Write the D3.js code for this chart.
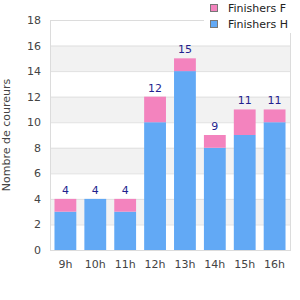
<!DOCTYPE html>
<html>
<head>
<meta charset="utf-8">
<script src="https://cdn.jsdelivr.net/npm/d3@7"></script>
<style>
  body { margin: 0; background: #fff; }
  svg { font-family: "DejaVu Sans", sans-serif; }
</style>
</head>
<body>
<div id="chart"></div>
<script>
var categories = ["9h", "10h", "11h", "12h", "13h", "14h", "15h", "16h"];
var finishersH = [3, 4, 3, 10, 14, 8, 9, 10];
var finishersF = [1, 0, 1, 2, 1, 1, 2, 1];
var yTicks = [0, 2, 4, 6, 8, 10, 12, 14, 16, 18];
var seriesNames = ["Finishers F", "Finishers H"];
var seriesColors = {"Finishers H": "#62a9f5", "Finishers F": "#f383be"};

var width = 300, height = 300;
var margin = {top: 20, right: 10, bottom: 50, left: 50};
var graphWidth = width - margin.left - margin.right;
var graphHeight = height - margin.top - margin.bottom;

var svg = d3.select("#chart").append("svg")
    .attr("width", width)
    .attr("height", height);

var g = svg.append("g")
    .attr("transform", "translate(" + margin.left + "," + margin.top + ")");

var x = d3.scaleBand().domain(categories).range([0, graphWidth]).paddingInner(0.27).paddingOuter(0.15);
var y = d3.scaleLinear().domain([0, 18]).range([graphHeight, 0]);

// alternating bands
for (var i = 0; i < yTicks.length - 1; i++) {
    if (i % 2 === 1) {
        g.append("rect")
            .attr("x", 0).attr("width", graphWidth)
            .attr("y", y(yTicks[i + 1]))
            .attr("height", y(yTicks[i]) - y(yTicks[i + 1]))
            .attr("fill", "#f2f2f2");
    }
}
g.selectAll(".grid").data(yTicks).enter().append("line")
    .attr("x1", 0).attr("x2", graphWidth)
    .attr("y1", function(d) { return y(d) + 0.5; })
    .attr("y2", function(d) { return y(d) + 0.5; })
    .attr("stroke", "#e0e0e0");

// plot frame
g.append("rect")
    .attr("x", 0.5).attr("y", 0.5)
    .attr("width", graphWidth).attr("height", graphHeight)
    .attr("fill", "none").attr("stroke", "#dcdcdc");

var stackData = categories.map(function(c, i) {
    return {cat: c, "Finishers H": finishersH[i], "Finishers F": finishersF[i]};
});
var stack = d3.stack().keys(["Finishers H", "Finishers F"])(stackData);

g.selectAll(".series").data(stack).enter().append("g")
    .attr("fill", function(s) { return seriesColors[s.key]; })
    .selectAll("rect").data(function(s) { return s; }).enter().append("rect")
        .attr("x", function(d) { return x(d.data.cat); })
        .attr("width", x.bandwidth())
        .attr("y", function(d) { return y(d[1]); })
        .attr("height", function(d) { return y(d[0]) - y(d[1]); });

// totals
g.selectAll(".total").data(stackData).enter().append("text")
    .attr("x", function(d) { return x(d.cat) + x.bandwidth() / 2; })
    .attr("y", function(d) { return y(d["Finishers H"] + d["Finishers F"]) - 5; })
    .attr("text-anchor", "middle")
    .attr("font-size", 11)
    .attr("fill", "#1f1f8f")
    .text(function(d) { return d["Finishers H"] + d["Finishers F"]; });

// axes text
g.selectAll(".ytick").data(yTicks).enter().append("text")
    .attr("x", -9).attr("y", function(d) { return y(d) + 4; })
    .attr("text-anchor", "end")
    .attr("font-size", 11)
    .attr("fill", "#444")
    .text(function(d) { return d; });

g.selectAll(".xtick").data(categories).enter().append("text")
    .attr("x", function(d) { return x(d) + x.bandwidth() / 2; })
    .attr("y", graphHeight + 18)
    .attr("text-anchor", "middle")
    .attr("font-size", 11)
    .attr("fill", "#444")
    .text(function(d) { return d; });

svg.append("text")
    .attr("transform", "translate(10," + (margin.top + graphHeight / 2) + ") rotate(-90)")
    .attr("text-anchor", "middle")
    .attr("font-size", 11)
    .attr("fill", "#444")
    .text("Nombre de coureurs");

// legend
var legend = svg.append("g");
legend.append("rect")
    .attr("x", 204).attr("y", 0).attr("width", 96).attr("height", 33)
    .attr("fill", "#fff");
var items = legend.selectAll(".item").data(seriesNames).enter().append("g")
    .attr("transform", function(d, i) { return "translate(210," + (4 + i * 16) + ")"; });
items.append("rect")
    .attr("x", 0.5).attr("y", 0.5).attr("width", 7).attr("height", 7)
    .attr("fill", function(d) { return seriesColors[d]; })
    .attr("stroke", "#777");
items.append("text")
    .attr("x", 18).attr("y", 8)
    .attr("font-size", 11)
    .attr("fill", "#222")
    .text(function(d) { return d; });
</script>
</body>
</html>
